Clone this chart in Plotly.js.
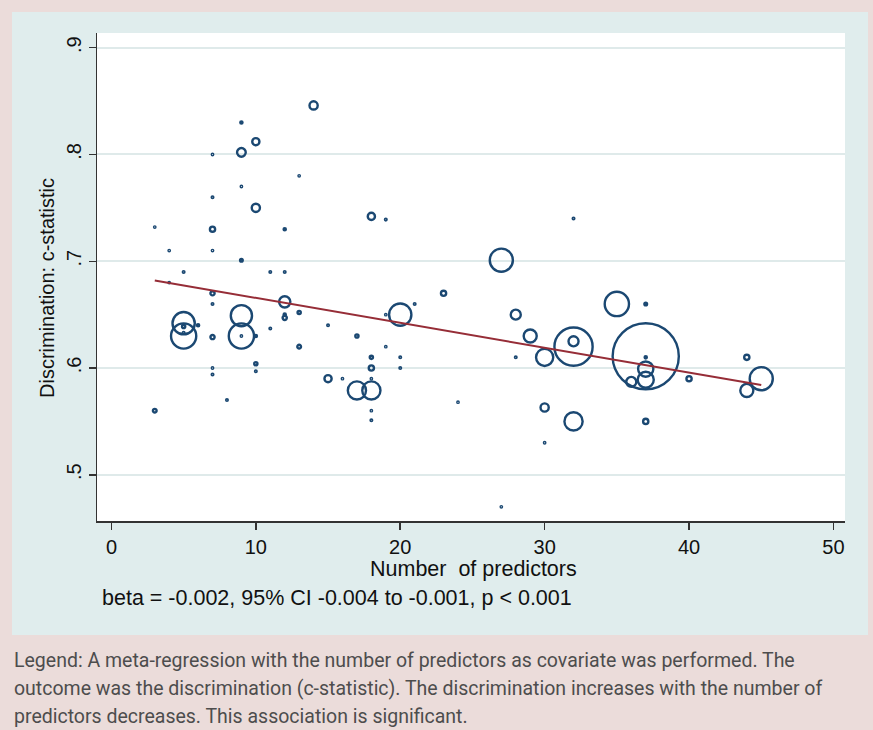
<!DOCTYPE html>
<html>
<head>
<meta charset="utf-8">
<script src="https://cdn.plot.ly/plotly-3.0.1.min.js"></script>
<style>
html, body { margin: 0; padding: 0; background: #ebdcda; }
#chart { width: 873px; height: 730px; }
</style>
</head>
<body>
<div id="chart"></div>
<script>
// Study estimates: number of predictors in the model and its c-statistic
const predictors = [14, 9, 10, 9, 7, 13, 9, 7, 10, 3, 7, 12, 4, 7, 9, 5, 11, 12, 4, 7,
  7, 12, 12, 12, 13, 5, 5, 5, 5, 6, 7, 9, 9, 9, 10, 11, 15, 13, 7, 7,
  10, 10, 15, 16, 8, 3, 18, 19, 27, 17, 19, 18, 20, 18, 20, 18, 17, 18, 18, 18,
  24, 23, 21, 20, 19, 28, 29, 28, 27, 32, 35, 37, 32, 32, 30, 37, 37, 37, 37, 36,
  40, 44, 45, 44, 30, 32, 37, 30];

const cstat = [0.846, 0.830, 0.812, 0.802, 0.800, 0.780, 0.770, 0.760, 0.750, 0.732,
  0.730, 0.730, 0.710, 0.710, 0.701, 0.690, 0.690, 0.690, 0.680, 0.670,
  0.660, 0.662, 0.650, 0.647, 0.652, 0.642, 0.630, 0.639, 0.633, 0.640,
  0.629, 0.649, 0.630, 0.630, 0.630, 0.637, 0.640, 0.620, 0.600, 0.594,
  0.604, 0.597, 0.590, 0.590, 0.570, 0.560, 0.742, 0.739, 0.701, 0.630,
  0.620, 0.610, 0.610, 0.600, 0.600, 0.590, 0.579, 0.579, 0.560, 0.551,
  0.568, 0.670, 0.660, 0.650, 0.650, 0.650, 0.630, 0.610, 0.470, 0.740,
  0.660, 0.660, 0.620, 0.625, 0.610, 0.611, 0.610, 0.599, 0.589, 0.587,
  0.590, 0.610, 0.590, 0.579, 0.563, 0.550, 0.550, 0.530];

// Relative study weight (marker area is proportional to it)
const weight = [10, 1.6, 8.1, 11, 0.9, 0.6, 0.6, 1.2, 10, 0.6,
  4.9, 1.6, 0.6, 0.9, 2, 1.2, 1.2, 1.2, 0.9, 3.6,
  1.2, 17, 1.6, 3.6, 2.5, 58, 73, 2.5, 1.2, 1.6,
  3.6, 53, 73, 0.4, 1.6, 1.2, 1.2, 3, 0.6, 1.2,
  2.5, 1.2, 8.1, 0.6, 1.2, 3, 8.1, 1.2, 62, 2.5,
  0.9, 2.5, 1.2, 4.9, 1.2, 0.6, 40, 40, 0.6, 1.2,
  0.9, 4.9, 1.2, 58, 0.6, 14, 22, 1.2, 0.9, 1.2,
  68, 2, 160, 14, 36, 462, 1.6, 29, 32, 14,
  4.9, 4.9, 62, 22, 10, 40, 4.9, 0.6];

// Meta-regression fitted line, spanning the observed covariate range
const fitX = [3, 45];
const fitY = [0.682, 0.584];

const xTicks = [0, 10, 20, 30, 40, 50];
const yTicks = [0.5, 0.6, 0.7, 0.8, 0.9];
const yTickText = ['.5', '.6', '.7', '.8', '.9'];

const xTitle = 'Number\u00a0 of predictors';
const yTitle = 'Discrimination: c-statistic';
const statLine = 'beta = -0.002, 95% CI -0.004 to -0.001, p &lt; 0.001';
const captionLines = [
  'Legend: A meta-regression with the number of predictors as covariate was performed. The',
  'outcome was the discrimination (c-statistic). The discrimination increases with the number of',
  'predictors decreases. This association is significant.'
];

const markerColor = '#1b4872';
const lineColor = '#962d37';
const strokeW = 2.4;
const sizes = weight.map(w => Math.max(Math.sqrt(10 * w) - 1.8, 1.4));

const fam = 'Liberation Sans, Arial, sans-serif';
const axisFont = { family: fam, size: 20, color: '#111' };
const titleFont = { family: fam, size: 21.5, color: '#111' };
const yTitleFont = { family: fam, size: 20, color: '#111' };

// plot area in pixels (used to place paper-referenced decorations)
const W = 873, H = 730;
const M = { l: 97, r: 28, t: 33, b: 209 };
const pw = W - M.l - M.r, ph = H - M.t - M.b;
const px = x => (x - M.l) / pw;
const py = y => (H - M.b - y) / ph;

const traces = [
  {
    type: 'scatter', mode: 'markers',
    x: predictors, y: cstat,
    marker: {
      symbol: 'circle', size: sizes, sizemode: 'diameter',
      color: 'rgba(0,0,0,0)', opacity: 1,
      line: { color: markerColor, width: strokeW }
    },
    hoverinfo: 'skip', showlegend: false
  },
  {
    type: 'scatter', mode: 'lines',
    x: fitX, y: fitY,
    line: { color: lineColor, width: 2 },
    hoverinfo: 'skip', showlegend: false
  }
];

const annotations = [
  { text: xTitle, xref: 'paper', yref: 'paper', x: px(473), y: py(569),
    xanchor: 'center', yanchor: 'middle', showarrow: false, font: titleFont },
  { text: yTitle, xref: 'paper', yref: 'paper', x: px(47), y: py(288),
    xanchor: 'center', yanchor: 'middle', textangle: -90, showarrow: false, font: yTitleFont },
  { text: statLine, xref: 'paper', yref: 'paper', x: px(100), y: py(598),
    xanchor: 'left', yanchor: 'middle', showarrow: false, font: titleFont }
];
captionLines.forEach((t, i) => {
  annotations.push({
    text: t, xref: 'paper', yref: 'paper', x: px(12), y: py(660 + 28 * i),
    xanchor: 'left', yanchor: 'middle', showarrow: false,
    font: { family: 'Roboto, sans-serif', size: 19.5, color: '#4d4d4d' }
  });
});

const layout = {
  width: W, height: H,
  margin: M,
  paper_bgcolor: '#ebdcda',
  plot_bgcolor: 'rgba(0,0,0,0)',
  showlegend: false,
  xaxis: {
    range: [-1, 50.8], tickvals: xTicks, ticktext: xTicks.map(String),
    showgrid: false, zeroline: false,
    showline: true, linecolor: '#333', linewidth: 1.5,
    ticks: 'outside', ticklen: 7, tickwidth: 1.5, tickcolor: '#333',
    tickfont: axisFont, fixedrange: true
  },
  yaxis: {
    range: [0.4567, 0.9138], tickvals: yTicks, ticktext: yTickText, tickangle: -90,
    showgrid: true, gridcolor: '#dfeaea', gridwidth: 2, zeroline: false,
    showline: true, linecolor: '#333', linewidth: 1.5,
    ticks: 'outside', ticklen: 7, tickwidth: 1.5, tickcolor: '#333',
    tickfont: axisFont, fixedrange: true
  },
  shapes: [
    { type: 'rect', xref: 'paper', yref: 'paper', layer: 'below',
      x0: px(12), x1: px(868), y0: py(635), y1: py(12),
      fillcolor: '#e0eded', line: { width: 0 } },
    { type: 'rect', xref: 'paper', yref: 'paper', layer: 'below',
      x0: 0, x1: 1, y0: 0, y1: 1,
      fillcolor: '#ffffff', line: { width: 0 } }
  ],
  annotations: annotations
};

Plotly.newPlot('chart', traces, layout, { staticPlot: true, displayModeBar: false });
</script>
</body>
</html>
